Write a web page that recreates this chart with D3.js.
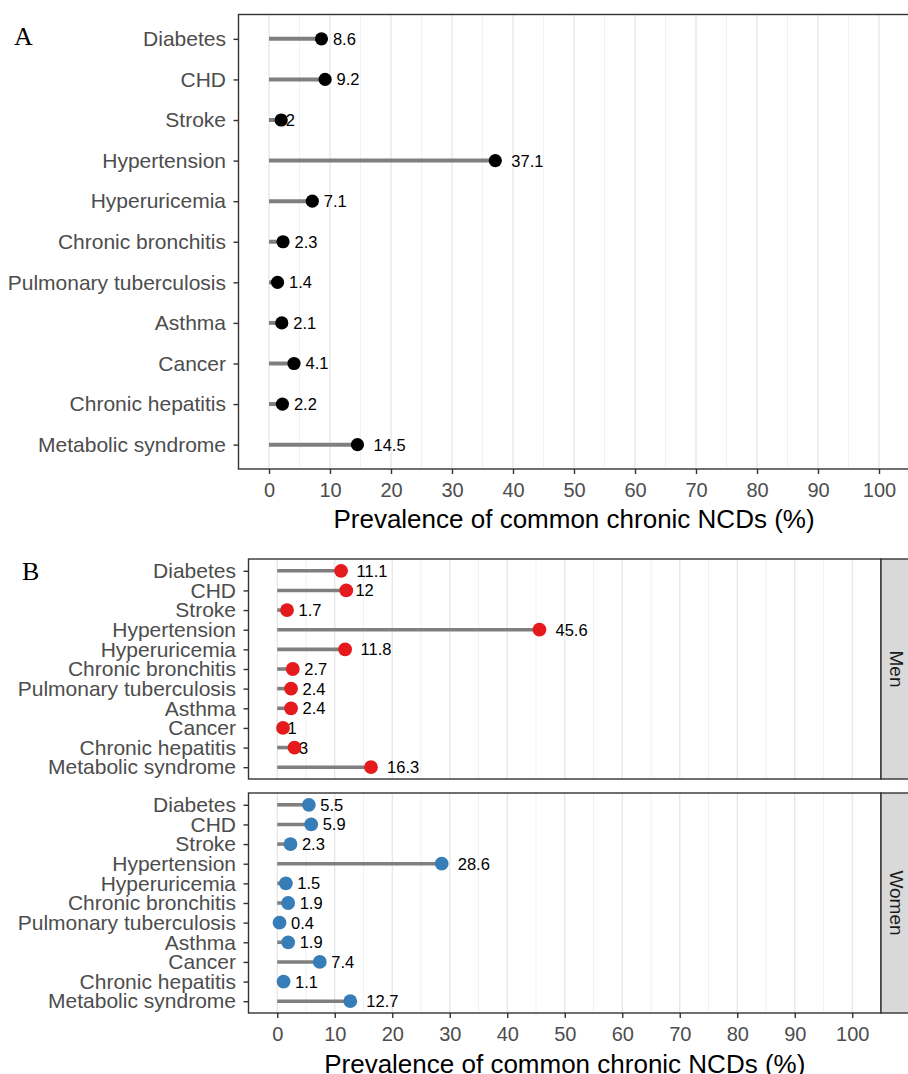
<!DOCTYPE html>
<html>
<head>
<meta charset="utf-8">
<script src="https://cdn.jsdelivr.net/npm/d3@7"></script>
<style>
  html, body { margin: 0; padding: 0; background: #fff; }
  svg { display: block; font-family: "Liberation Sans", Arial, Helvetica, sans-serif; }
</style>
</head>
<body>
<script>
// ---------- data ----------
const categories = ["Diabetes", "CHD", "Stroke", "Hypertension", "Hyperuricemia",
  "Chronic bronchitis", "Pulmonary tuberculosis", "Asthma", "Cancer",
  "Chronic hepatitis", "Metabolic syndrome"];
const overallValues = [8.6, 9.2, 2, 37.1, 7.1, 2.3, 1.4, 2.1, 4.1, 2.2, 14.5];
const menValues     = [11.1, 12, 1.7, 45.6, 11.8, 2.7, 2.4, 2.4, 1, 3, 16.3];
const womenValues   = [5.5, 5.9, 2.3, 28.6, 1.5, 1.9, 0.4, 1.9, 7.4, 1.1, 12.7];
const xTicks = [0, 10, 20, 30, 40, 50, 60, 70, 80, 90, 100];
const xMinorTicks = [5, 15, 25, 35, 45, 55, 65, 75, 85, 95];
const xDomain = [-5, 105];
const xTitle = "Prevalence of common chronic NCDs (%)";
const facetLabels = ["Men", "Women"];
const panelTags = ["A", "B"];

// ---------- drawing ----------
const W = 908, H = 1074;
const SANS = '"Liberation Sans", Arial, Helvetica, sans-serif';
const SERIF = '"Liberation Serif", "Times New Roman", Times, serif';
const svg = d3.select("body").append("svg").attr("width", W).attr("height", H);

function drawPanel(opt) {
  const x = d3.scaleLinear().domain(xDomain).range([opt.left, opt.right]);
  const y = d3.scalePoint().domain(categories).range([opt.top, opt.bottom]).padding(0.6);
  const g = svg.append("g");
  const data = categories.map((c, i) => ({ c, v: opt.values[i] }));

  // grid
  g.append("g").selectAll("line").data(xMinorTicks).join("line")
    .attr("x1", d => x(d)).attr("x2", d => x(d))
    .attr("y1", opt.top).attr("y2", opt.bottom)
    .attr("stroke", "#efefef").attr("stroke-width", 0.9);
  g.append("g").selectAll("line").data(xTicks).join("line")
    .attr("x1", d => x(d)).attr("x2", d => x(d))
    .attr("y1", opt.top).attr("y2", opt.bottom)
    .attr("stroke", "#e6e6e6").attr("stroke-width", 1.3);

  // segments
  g.append("g").selectAll("line").data(data).join("line")
    .attr("x1", x(0)).attr("x2", d => x(d.v))
    .attr("y1", d => y(d.c)).attr("y2", d => y(d.c))
    .attr("stroke", "#7f7f7f").attr("stroke-width", opt.sw);

  // dots
  g.append("g").selectAll("circle").data(data).join("circle")
    .attr("cx", d => x(d.v)).attr("cy", d => y(d.c))
    .attr("r", opt.r).attr("fill", opt.color);

  // value labels (hjust = -0.5)
  g.append("g").selectAll("text").data(data).join("text")
    .text(d => String(d.v))
    .attr("y", d => y(d.c)).attr("dy", "0.36em")
    .style("font-family", SANS).style("font-size", "16.5px").attr("fill", "#000")
    .each(function(d) {
      const w = this.getComputedTextLength();
      d3.select(this).attr("x", x(d.v) + 0.5 * w);
    });

  // border
  g.append("rect")
    .attr("x", opt.left).attr("y", opt.top)
    .attr("width", opt.right - opt.left).attr("height", opt.bottom - opt.top)
    .attr("fill", "none").attr("stroke", "#333").attr("stroke-width", 1.4);

  // y axis
  const ya = g.append("g").attr("transform", `translate(${opt.left},0)`)
    .call(d3.axisLeft(y).tickSize(5).tickPadding(7.5));
  ya.select(".domain").remove();
  ya.selectAll(".tick line").attr("stroke", "#333").attr("stroke-width", 1.4);
  ya.selectAll(".tick text").style("font-size", "21px").attr("fill", "#4d4d4d")
    .style("font-family", SANS);

  // x axis
  if (opt.xAxis) {
    const xa = g.append("g").attr("transform", `translate(0,${opt.bottom})`)
      .call(d3.axisBottom(x).tickValues(xTicks).tickSize(5).tickPadding(8.5));
    xa.select(".domain").remove();
    xa.selectAll(".tick line").attr("stroke", "#333").attr("stroke-width", 1.4);
    xa.selectAll(".tick text").style("font-size", "20px").attr("fill", "#4d4d4d")
      .style("font-family", SANS);
    g.append("text")
      .attr("x", (opt.left + opt.right) / 2).attr("y", opt.bottom + opt.titleOffset)
      .attr("text-anchor", "middle").style("font-size", "26px").style("font-family", SANS)
      .attr("fill", "#000")
      .text(xTitle);
  }

  // strip
  if (opt.strip) {
    g.append("rect")
      .attr("x", opt.right).attr("y", opt.top)
      .attr("width", 28).attr("height", opt.bottom - opt.top)
      .attr("fill", "#d9d9d9").attr("stroke", "#333").attr("stroke-width", 1.4);
    const cx = opt.right + 16, cy = (opt.top + opt.bottom) / 2;
    g.append("text")
      .attr("transform", `translate(${cx},${cy}) rotate(90)`)
      .attr("text-anchor", "middle").attr("dy", "0.36em")
      .style("font-size", "19px").style("font-family", SANS).attr("fill", "#1a1a1a")
      .text(opt.strip);
  }
}

// Panel A
drawPanel({ left: 238.5, right: 909.5, top: 14.5, bottom: 469, values: overallValues,
  color: "#000", r: 6.6, sw: 4, xAxis: true, titleOffset: 59 });

// Panel B - Men
drawPanel({ left: 248.5, right: 881, top: 559, bottom: 779, values: menValues,
  color: "#e41a1c", r: 6.9, sw: 3.6, xAxis: false, strip: facetLabels[0] });

// Panel B - Women
drawPanel({ left: 248.5, right: 881, top: 793, bottom: 1013, values: womenValues,
  color: "#377eb8", r: 6.9, sw: 3.6, xAxis: true, titleOffset: 60, strip: facetLabels[1] });

// panel tags
svg.append("text").attr("x", 14).attr("y", 45)
  .style("font-family", SERIF).style("font-size", "26px").attr("fill", "#000")
  .text(panelTags[0]);
svg.append("text").attr("x", 22).attr("y", 580)
  .style("font-family", SERIF).style("font-size", "26px").attr("fill", "#000")
  .text(panelTags[1]);
</script>
</body>
</html>
